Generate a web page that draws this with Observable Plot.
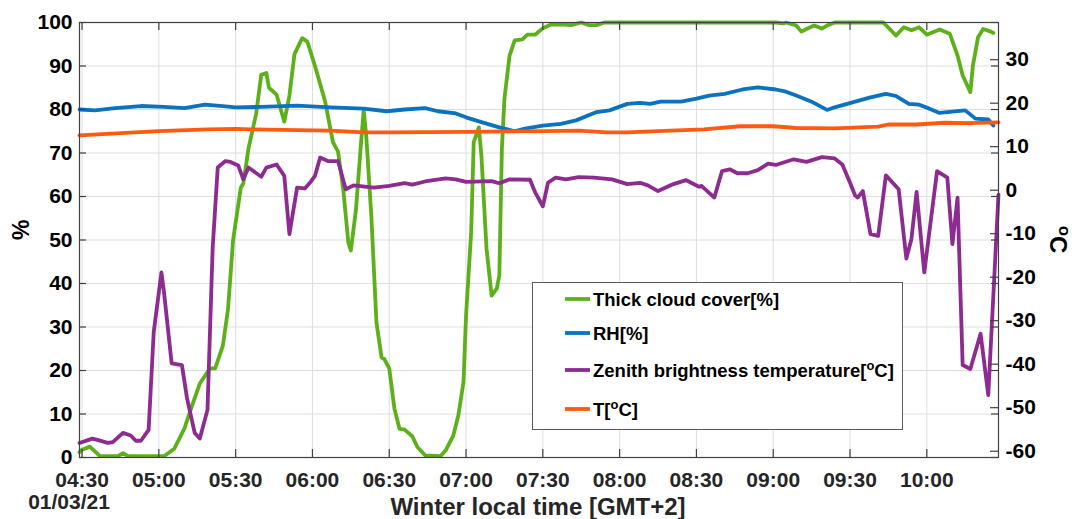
<!DOCTYPE html>
<html>
<head>
<meta charset="utf-8">
<script src="https://cdn.jsdelivr.net/npm/d3@7"></script>
<script src="https://cdn.jsdelivr.net/npm/@observablehq/plot@0.6"></script>
<style>
  body { margin: 0; background: #fff; }
  #chart svg { display: block; }
</style>
</head>
<body>
<div id="chart"></div>
<script>
// Thick cloud cover [%]
const cloudTime = ["04:29","04:30","04:33","04:37","04:44","04:46","04:48","05:02","05:06","05:10","05:13","05:16","05:20","05:22","05:25","05:27","05:29","05:32","05:33","05:35","05:38","05:40","05:42","05:43","05:46","05:49","05:51","05:53","05:56","05:58","06:01","06:05","06:08","06:10","06:12","06:14","06:15","06:17","06:19","06:20","06:21","06:23","06:25","06:27","06:28","06:30","06:32","06:34","06:36","06:39","06:41","06:44","06:50","06:52","06:55","06:57","06:59","07:00","07:02","07:03","07:05","07:06","07:08","07:10","07:12","07:13","07:14","07:15","07:17","07:19","07:22","07:24","07:27","07:30","07:33","07:37","07:41","07:45","07:48","07:51","07:54","09:01","09:04","09:05","09:09","09:11","09:13","09:16","09:19","09:21","09:24","09:43","09:48","09:51","09:54","09:57","10:00","10:05","10:09","10:12","10:14","10:17","10:18","10:20","10:22","10:25","10:26"];
const cloudCover = [1.2,1.8,2.5,0.3,0.3,1.0,0.3,0.3,2,6.7,12,17,20.5,20.5,25.7,34,50,62,63,71,79,88,88.4,85,83.4,77.2,83.2,92.8,96.4,95.6,90,81.7,72.5,70.3,61.8,49.5,47.6,57,72.5,79.8,74,55.6,31,23,22.7,20.5,11.3,6.6,6.4,4.9,2.4,0.5,0.3,1.6,5,9.7,17.3,32.6,51.8,72.5,75.9,69.4,48,37.2,38.8,41.8,71,82.5,92.4,95.9,96.1,97.2,97.2,98.7,99.5,99.6,99.4,100,99.4,99.4,100,100,99.8,100,99.3,97.9,98.5,99.3,98.6,99.3,100,100,97,98.9,98.2,98.9,97.2,98.4,97.4,92.4,87.8,84,90.1,96.6,98.5,97.9,97.6];

// Relative humidity [%]
const rhTime = ["04:29","04:35","04:43","04:53","05:02","05:10","05:18","05:25","05:30","05:40","05:54","06:07","06:20","06:29","06:36","06:44","06:49","06:56","07:00","07:06","07:13","07:19","07:23","07:30","07:37","07:43","07:51","07:56","08:03","08:08","08:12","08:16","08:24","08:30","08:35","08:41","08:48","08:54","09:01","09:05","09:09","09:15","09:21","09:24","09:32","09:38","09:44","09:48","09:53","09:57","10:01","10:05","10:08","10:15","10:19","10:24","10:26"];
const rhValue = [80.0,79.8,80.3,80.8,80.6,80.3,81.1,80.8,80.5,80.6,80.9,80.5,80.2,79.6,80.0,80.3,79.6,79.1,78.2,77.1,75.9,75.0,75.6,76.3,76.7,77.5,79.4,79.8,81.3,81.5,81.3,81.8,81.8,82.5,83.2,83.6,84.6,85.1,84.6,84.1,83.2,81.8,79.9,80.5,81.8,82.8,83.6,83.1,81.3,81.1,80.2,79.2,79.4,79.8,77.9,77.7,76.3];

// Zenith brightness temperature [°C]
const zenithTime = ["04:29","04:34","04:36","04:40","04:42","04:46","04:49","04:51","04:53","04:56","04:58","05:01","05:02","05:05","05:09","05:11","05:14","05:16","05:19","05:21","05:23","05:26","05:28","05:31","05:33","05:35","05:40","05:42","05:46","05:49","05:51","05:54","05:57","05:59","06:01","06:03","06:06","06:10","06:13","06:16","06:24","06:30","06:36","06:39","06:44","06:52","06:56","07:00","07:10","07:13","07:17","07:25","07:27","07:30","07:32","07:35","07:39","07:44","07:50","07:57","08:03","08:08","08:11","08:15","08:21","08:26","08:31","08:32","08:37","08:40","08:43","08:46","08:50","08:54","08:58","09:01","09:08","09:13","09:19","09:24","09:27","09:30","09:32","09:33","09:35","09:38","09:41","09:44","09:49","09:52","09:54","09:56","09:59","10:04","10:08","10:10","10:12","10:14","10:17","10:21","10:24","10:28"];
const zenithTemp = [-58.1,-57.1,-57.4,-58.1,-57.9,-55.8,-56.4,-57.6,-57.6,-55.1,-32.6,-18.9,-23.4,-39.8,-40.2,-47.8,-55.8,-57.1,-50.5,-13.5,5.2,6.7,6.5,5.7,2.5,5.2,3.1,5.2,5.9,3.3,-10.1,0.6,0.4,1.7,3.3,7.5,6.7,6.7,0.2,1.1,0.6,1.0,1.6,1.3,2.0,2.7,2.5,1.9,2.1,1.6,2.5,2.4,-0.5,-3.7,1.7,2.9,2.5,3.0,2.9,2.5,1.4,1.7,1.1,-0.2,1.4,2.3,0.8,1.0,-1.7,4.4,4.8,3.9,3.9,4.6,6.1,5.8,7.1,6.5,7.6,7.3,5.9,1.7,-1.2,-1.7,-0.2,-10.1,-10.5,3.4,0.2,-15.7,-11.2,-0.4,-18.9,4.4,2.9,-12.4,-1.7,-40.2,-41.1,-33,-47.1,-1.0];

// Air temperature [°C]
const airTime = ["04:29","04:47","05:00","05:19","05:30","05:36","05:54","06:07","06:20","06:30","07:00","07:31","07:44","07:55","08:03","08:15","08:33","08:47","09:00","09:09","09:24","09:41","09:45","09:56","10:07","10:16","10:28"];
const airTemp = [12.6,13.2,13.6,14.0,14.1,14.0,13.8,13.7,13.3,13.3,13.4,13.6,13.7,13.3,13.3,13.6,14.0,14.7,14.7,14.3,14.2,14.6,15.1,15.1,15.5,15.4,15.6];

// Axis ticks
const timeTicks = ["04:30","05:00","05:30","06:00","06:30","07:00","07:30","08:00","08:30","09:00","09:30","10:00"];
const percentTicks = [0,10,20,30,40,50,60,70,80,90,100];
const degreeTicks = [-60,-50,-40,-30,-20,-10,0,10,20,30];

const seriesNames = ["Thick cloud cover[%]", "RH[%]", "Zenith brightness temperature[", "T["];
const seriesColors = ["#5cb11b", "#0a72be", "#8d2b90", "#ff5a10"];

// The °C axis shares the % frame: 0 °C sits at 61.45 %
const DEG_OFFSET = 61.45;

const clock = s => new Date(Date.UTC(2021, 2, 1, +s.slice(0, 2), +s.slice(3, 5)));
const rows = (times, values) => times.map((s, i) => ({time: clock(s), v: values[i]}));

const cloudRows = rows(cloudTime, cloudCover);
const rhRows = rows(rhTime, rhValue);
const zenithRows = rows(zenithTime, zenithTemp);
const airRows = rows(airTime, airTemp);
const tickDates = timeTicks.map(clock);

const W = 1075, H = 519;
const M = {top: 22, right: 77, bottom: 62, left: 79};
const innerW = W - M.left - M.right;
const innerH = H - M.top - M.bottom;
const axisInk = "#404040";
const lineStyle = {x: "time", strokeWidth: 3.8, strokeLinejoin: "round", strokeLinecap: "round"};

const svg = Plot.plot({
  width: W,
  height: H,
  marginTop: M.top,
  marginRight: M.right,
  marginBottom: M.bottom,
  marginLeft: M.left,
  style: {background: "#fff", fontFamily: "'Liberation Sans', Arial, sans-serif", fontSize: "21px", fontWeight: "bold", overflow: "visible"},
  x: {type: "utc", domain: [clock("04:29"), clock("10:28")]},
  y: {domain: [0, 100]},
  marks: [
    Plot.gridX({ticks: tickDates, stroke: "#dedede", strokeOpacity: 1, strokeWidth: 1}),
    Plot.gridY({ticks: percentTicks, stroke: "#dedede", strokeOpacity: 1, strokeWidth: 1}),

    Plot.lineY(cloudRows, {...lineStyle, y: "v", stroke: seriesColors[0]}),
    Plot.lineY(rhRows, {...lineStyle, y: "v", stroke: seriesColors[1]}),
    Plot.lineY(zenithRows, {...lineStyle, y: d => d.v + DEG_OFFSET, stroke: seriesColors[2]}),
    Plot.lineY(airRows, {...lineStyle, y: d => d.v + DEG_OFFSET, stroke: seriesColors[3]}),

    Plot.frame({stroke: axisInk, strokeWidth: 1.2}),

    // inward tick marks on all four sides
    Plot.tickX(tickDates, {x: d => d, insetTop: innerH - 8, stroke: axisInk, strokeWidth: 1.2}),
    Plot.tickX(tickDates, {x: d => d, insetBottom: innerH - 8, stroke: axisInk, strokeWidth: 1.2}),
    Plot.tickY(percentTicks, {y: d => d, insetRight: innerW - 7, stroke: axisInk, strokeWidth: 1.2}),
    Plot.tickY(percentTicks, {y: d => d, insetLeft: innerW - 7, stroke: axisInk, strokeWidth: 1.2}),
    Plot.tickY(degreeTicks, {y: d => d + DEG_OFFSET, insetLeft: innerW - 8, stroke: axisInk, strokeWidth: 1.2}),

    Plot.axisX({ticks: tickDates, tickFormat: d3.utcFormat("%H:%M"), tickSize: 0, tickPadding: 15, label: null, color: "#262626"}),
    Plot.axisY({ticks: percentTicks, tickSize: 0, tickPadding: 7, label: null, color: "#000"}),
    Plot.axisY({anchor: "right", ticks: degreeTicks.map(t => t + DEG_OFFSET), tickFormat: d => String(Math.round(d - DEG_OFFSET)), tickSize: 0, tickPadding: 7, label: null, color: "#000"}),

    Plot.text(["%"], {frameAnchor: "left", dx: -58, rotate: -90, fontSize: 23, fill: "#000"}),
    Plot.text(["Winter local time [GMT+2]"], {frameAnchor: "bottom", lineAnchor: "middle", textAnchor: "middle", dx: -1, dy: 50, fontSize: 24, fill: "#262626"}),
    Plot.text(["01/03/21"], {frameAnchor: "bottom-left", lineAnchor: "middle", textAnchor: "middle", dx: -10.5, dy: 45, fontSize: 21, fill: "#262626"})
  ]
});

// Right-hand axis title with a raised "o"
const root = d3.select(svg);
const degLabel = root.append("text")
  .attr("transform", `translate(${W - M.right + 60},${M.top + innerH / 2}) rotate(90)`)
  .attr("text-anchor", "middle")
  .attr("dy", "0.35em")
  .attr("font-size", 24)
  .attr("font-weight", "bold")
  .attr("fill", "#000");
degLabel.append("tspan").attr("baseline-shift", "super").attr("font-size", "70%").text("o");
degLabel.append("tspan").text("C");

// Legend box inside the plot area
const legend = root.append("g")
  .attr("font-size", 18.5)
  .attr("font-weight", "bold")
  .attr("text-anchor", "start");
legend.append("rect")
  .attr("x", 532.5).attr("y", 282.5).attr("width", 370).attr("height", 147)
  .attr("fill", "#fff").attr("stroke", "#5a5a5a").attr("stroke-width", 1);
const entryY = [299, 333, 370, 409];
seriesNames.forEach((name, i) => {
  legend.append("line")
    .attr("x1", 565).attr("x2", 590).attr("y1", entryY[i]).attr("y2", entryY[i])
    .attr("stroke", seriesColors[i]).attr("stroke-width", 3.8);
  const t = legend.append("text")
    .attr("x", 593).attr("y", entryY[i]).attr("dy", "0.36em")
    .attr("text-anchor", "start").attr("fill", "#000");
  t.append("tspan").text(name);
  if (i >= 2) {
    t.append("tspan").attr("baseline-shift", "super").attr("font-size", "70%").text("o");
    t.append("tspan").text("C]");
  }
});

document.getElementById("chart").appendChild(svg);
</script>
</body>
</html>
